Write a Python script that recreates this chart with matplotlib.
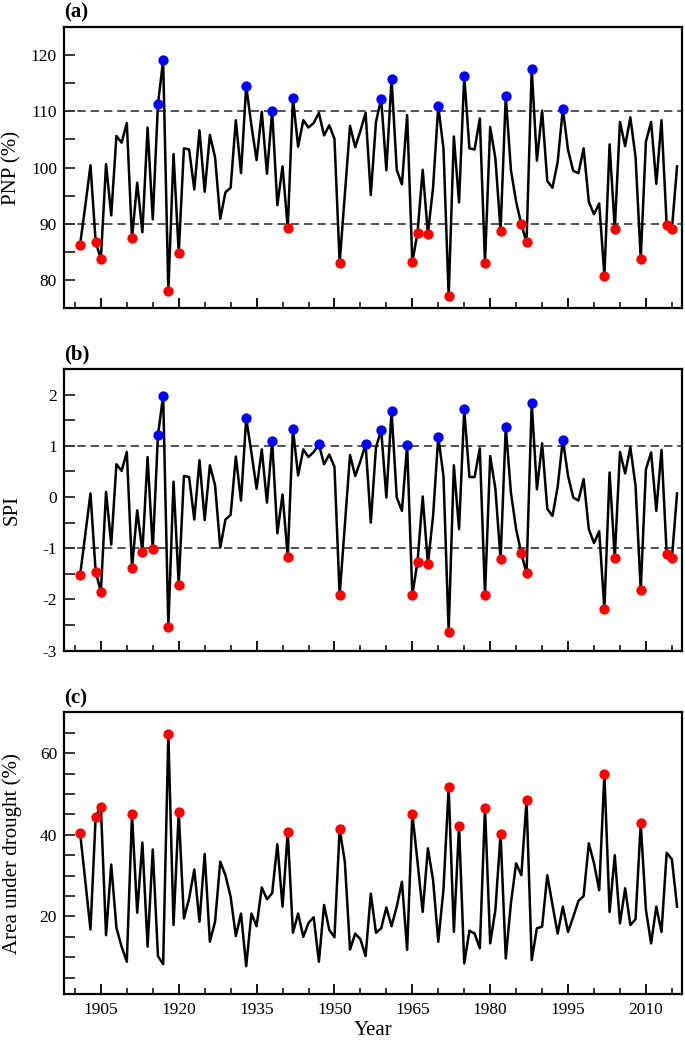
import numpy as np
import matplotlib
matplotlib.use("Agg")
import matplotlib.pyplot as plt
from matplotlib.ticker import MultipleLocator

plt.rcParams['font.family'] = ['Liberation Serif', 'DejaVu Serif']
plt.rcParams['mathtext.fontset'] = 'stix'

years = list(range(1901, 2017))

pnp = [86.3, 93.2, 100.4, 86.8, 83.7, 100.6, 91.5, 105.6, 104.4, 107.9,
       87.4, 97.3, 88.5, 107.1, 90.8, 111.3, 119.0, 78.0, 102.4, 84.8,
       103.4, 103.2, 96.1, 106.6, 95.7, 105.8, 101.8, 90.9, 95.6, 96.4,
       108.4, 99.0, 114.5, 107.5, 101.3, 109.9, 98.9, 110.0, 93.3, 100.2,
       89.2, 112.3, 103.7, 108.4, 107.1, 107.9, 109.7, 105.7, 107.5, 105.1,
       83.1, 95.2, 107.4, 103.6, 106.5, 109.7, 95.1, 108.1, 112.2, 99.5,
       115.8, 99.6, 97.0, 109.3, 83.2, 88.4, 99.6, 88.2, 96.5, 110.9,
       103.4, 77.1, 105.5, 93.8, 116.3, 103.4, 103.2, 108.7, 83.1, 107.2,
       101.6, 88.8, 112.7, 99.5, 93.9, 89.9, 86.7, 117.5, 101.2, 110.1,
       97.6, 96.4, 101.0, 110.4, 103.1, 99.4, 99.0, 103.4, 93.9, 91.7,
       93.6, 80.8, 104.1, 89.1, 108.1, 103.8, 108.9, 101.9, 83.8, 104.6,
       108.1, 97.1, 108.4, 89.8, 89.0, 100.2]

spi = [-1.53, -0.73, 0.07, -1.46, -1.85, 0.10, -0.93, 0.64, 0.51, 0.88,
       -1.39, -0.26, -1.07, 0.78, -1.02, 1.21, 1.98, -2.53, 0.30, -1.71,
       0.41, 0.39, -0.44, 0.72, -0.45, 0.62, 0.23, -0.99, -0.44, -0.35,
       0.79, -0.07, 1.54, 0.87, 0.16, 0.93, -0.11, 1.09, -0.71, 0.05,
       -1.17, 1.33, 0.42, 0.93, 0.78, 0.88, 1.03, 0.64, 0.83, 0.59,
       -1.92, -0.55, 0.82, 0.41, 0.70, 1.03, -0.50, 0.97, 1.31, -0.01,
       1.68, -0.01, -0.27, 1.01, -1.91, -1.27, 0.01, -1.31, -0.37, 1.18,
       0.41, -2.63, 0.62, -0.63, 1.71, 0.39, 0.39, 0.95, -1.92, 0.80,
       0.16, -1.22, 1.37, 0.08, -0.63, -1.10, -1.49, 1.84, 0.15, 1.05,
       -0.23, -0.37, 0.20, 1.12, 0.41, -0.01, -0.07, 0.35, -0.63, -0.90,
       -0.67, -2.19, 0.48, -1.19, 0.88, 0.46, 0.97, 0.22, -1.82, 0.54,
       0.87, -0.27, 0.92, -1.11, -1.20, 0.07]

area = [40.5, 28.7, 16.8, 44.4, 46.9, 15.4, 32.7, 17.2, 12.6, 8.9,
        45.0, 20.9, 38.1, 12.6, 36.4, 10.3, 8.3, 64.7, 17.9, 45.6,
        19.5, 24.4, 31.5, 18.7, 35.3, 13.8, 18.7, 33.4, 30.1, 24.8,
        15.2, 20.7, 7.8, 20.7, 17.6, 27.1, 24.2, 25.7, 37.7, 22.4,
        40.7, 16.0, 20.7, 15.0, 18.4, 19.8, 8.9, 22.8, 16.7, 14.9,
        41.4, 33.4, 11.9, 15.8, 14.4, 10.3, 25.6, 16.0, 17.1, 22.2,
        17.6, 22.4, 28.5, 11.8, 45.2, 33.4, 21.1, 36.7, 28.9, 13.8,
        26.6, 51.6, 16.2, 42.2, 8.5, 16.5, 15.8, 12.2, 46.6, 13.4,
        21.6, 40.2, 9.7, 23.3, 33.0, 30.1, 48.4, 9.3, 17.1, 17.5,
        30.1, 22.8, 15.8, 22.4, 16.2, 19.9, 23.8, 25.0, 37.9, 33.0,
        26.4, 55.0, 21.1, 35.0, 18.3, 26.9, 17.9, 19.3, 42.8, 21.6,
        13.4, 22.4, 16.2, 35.6, 34.0, 22.4]

pnp_dry = [1901, 1904, 1905, 1911, 1918, 1920, 1941, 1951, 1965, 1966, 1968,
           1972, 1979, 1982, 1986, 1987, 2002, 2004, 2009, 2014, 2015]
pnp_wet = [1916, 1917, 1933, 1938, 1942, 1959, 1961, 1970, 1975, 1983, 1988, 1994]
spi_dry = [1901, 1904, 1905, 1911, 1913, 1915, 1918, 1920, 1941, 1951, 1965,
           1966, 1968, 1972, 1979, 1982, 1986, 1987, 2002, 2004, 2009, 2014, 2015]
spi_wet = [1916, 1917, 1933, 1938, 1942, 1947, 1956, 1959, 1961, 1964, 1970,
           1975, 1983, 1988, 1994]
area_dry = [1901, 1904, 1905, 1911, 1918, 1920, 1941, 1951, 1965, 1972, 1974,
            1979, 1982, 1987, 2002, 2009]

pnp_thresholds = [90, 110]
spi_thresholds = [-1, 1]
xticks_major = [1905, 1920, 1935, 1950, 1965, 1980, 1995, 2010]

W, H = 685, 1041
fig = plt.figure(figsize=(W / 100, H / 100), dpi=100)

def px_axes(top, bottom):
    return [64 / W, 1 - bottom / H, (682 - 64) / W, (bottom - top) / H]

panels = [
    dict(rect=px_axes(26.7, 308.3), y=pnp, dry=pnp_dry, wet=pnp_wet, thr=pnp_thresholds,
         ylim=(75, 125), major=10, minor=5, ylabel='PNP (%)', tag='(a)'),
    dict(rect=px_axes(369, 650.6), y=spi, dry=spi_dry, wet=spi_wet, thr=spi_thresholds,
         ylim=(-3, 2.5), major=1, minor=0.5, ylabel='SPI', tag='(b)'),
    dict(rect=px_axes(712.3, 994), y=area, dry=area_dry, wet=[], thr=[],
         ylim=(1, 70), major=20, minor=5, ylabel='Area under drought (%)', tag='(c)'),
]

for i, p in enumerate(panels):
    ax = fig.add_axes(p['rect'])
    ax.plot(years, p['y'], color='black', lw=1.8, zorder=3)
    for t in p['thr']:
        ax.axhline(t, color='#333333', lw=1.2, ls=(0, (5, 3)), zorder=2)
    lookup = dict(zip(years, p['y']))
    if p['dry']:
        ax.scatter(p['dry'], [lookup[yr] for yr in p['dry']], s=55, color='#ff0000',
                   zorder=4, linewidths=0)
    if p['wet']:
        ax.scatter(p['wet'], [lookup[yr] for yr in p['wet']], s=55, color='#0000ff',
                   zorder=4, linewidths=0)
    ax.set_xlim(1897.9, 2016.95)
    ax.set_ylim(*p['ylim'])
    ax.set_xticks(xticks_major)
    ax.xaxis.set_minor_locator(MultipleLocator(5))
    ax.yaxis.set_major_locator(MultipleLocator(p['major']))
    ax.yaxis.set_minor_locator(MultipleLocator(p['minor']))
    ax.tick_params(axis='x', which='major', direction='in', length=7.5, width=1.3,
                   labelsize=12.5, pad=6, top=False)
    ax.tick_params(axis='x', which='minor', direction='in', length=4.5, width=1.1, top=False)
    ax.tick_params(axis='y', which='both', direction='in', length=8, width=1.1,
                   labelsize=12.5, pad=5, right=False)
    if i < 2:
        ax.tick_params(axis='x', labelbottom=False)
    if p['ylim'][0] < 0:
        ax.set_yticks([-3, -2, -1, 0, 1, 2])
        ax.set_yticklabels(['-3', '-2', '-1', '0', '1', '2'])
    for s in ax.spines.values():
        s.set_linewidth(1.6)
    ax.set_ylabel(p['ylabel'], fontsize=15)
    ax.yaxis.set_label_coords(-0.068, 0.5)
    ax.text(0.0, 1.015, p['tag'], transform=ax.transAxes, fontsize=15,
            fontweight='bold', ha='left', va='bottom')
    if i == 2:
        ax.set_xlabel('Year', fontsize=15, labelpad=2)

fig.savefig('out.png', dpi=100)
